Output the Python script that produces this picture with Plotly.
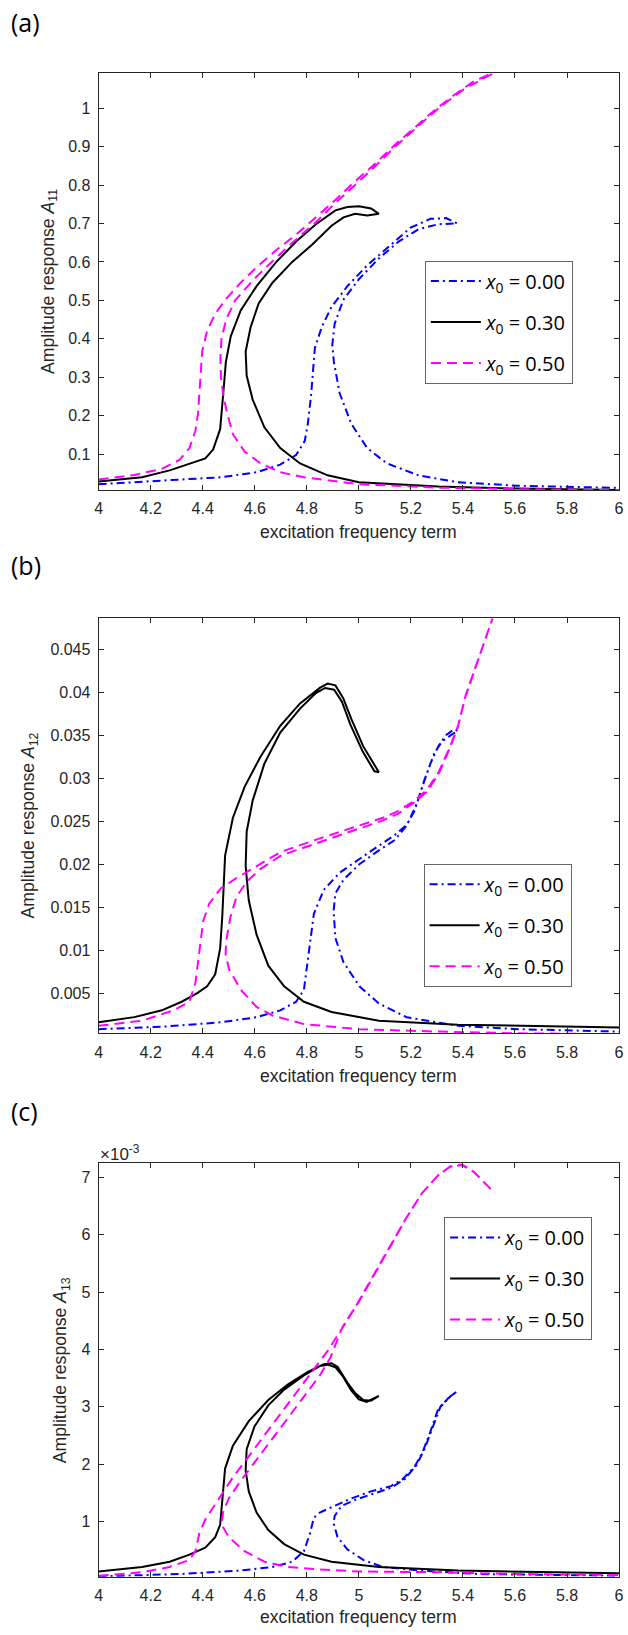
import plotly.graph_objects as go

# ---------------------------------------------------------------
# Frequency-response curves (amplitude vs. excitation frequency)
# for three initial offsets x0; each curve is traced as one path:
# lower-left branch -> upper branch -> turning point -> return branch.
# ---------------------------------------------------------------

legend_text = ["<i>x</i><sub>0</sub> = 0.00",
               "<i>x</i><sub>0</sub> = 0.30",
               "<i>x</i><sub>0</sub> = 0.50"]

# ---- panel (a): A11 ----
a11_w_000 = [4.0, 4.243, 4.47, 4.607, 4.698, 4.759, 4.792, 4.804, 4.816, 4.831, 4.857, 4.895,
             4.956, 5.032, 5.123, 5.199, 5.275, 5.335, 5.378, 5.305, 5.229, 5.153, 5.077, 5.0,
             4.94, 4.907, 4.898, 4.904, 4.926, 4.971, 5.032, 5.108, 5.229, 5.381, 5.608, 6.0]
a11_A_000 = [0.022, 0.031, 0.040, 0.053, 0.073, 0.098, 0.134, 0.179, 0.25, 0.376, 0.43, 0.483,
             0.537, 0.591, 0.645, 0.689, 0.712, 0.714, 0.70, 0.698, 0.685, 0.653, 0.609, 0.555,
             0.501, 0.439, 0.385, 0.34, 0.259, 0.179, 0.116, 0.076, 0.045, 0.027, 0.018, 0.0123]

a11_w_030 = [4.0, 4.167, 4.273, 4.349, 4.41, 4.44, 4.467, 4.478, 4.489, 4.508, 4.546, 4.607,
             4.683, 4.759, 4.835, 4.91, 4.956, 5.0, 5.047, 5.077, 5.032, 4.986, 4.941, 4.895,
             4.819, 4.744, 4.668, 4.615, 4.584, 4.565, 4.569, 4.592, 4.637, 4.698, 4.774, 4.88,
             5.0, 5.305, 5.608, 6.0]
a11_A_030 = [0.029, 0.040, 0.058, 0.076, 0.089, 0.112, 0.165, 0.25, 0.34, 0.407, 0.474, 0.537,
             0.60, 0.653, 0.698, 0.734, 0.743, 0.745, 0.739, 0.725, 0.721, 0.725, 0.716, 0.694,
             0.644, 0.60, 0.546, 0.492, 0.43, 0.367, 0.304, 0.242, 0.17, 0.116, 0.076, 0.045,
             0.027, 0.016, 0.0105, 0.007]

a11_w_050 = [4.0, 4.137, 4.243, 4.311, 4.349, 4.372, 4.382, 4.390, 4.398, 4.417, 4.448, 4.486,
             4.546, 4.607, 4.683, 4.759, 4.835, 4.91, 4.986, 5.062, 5.138, 5.214, 5.29, 5.366,
             5.442, 5.515,
             5.51, 5.405, 5.307, 5.222, 5.14, 5.065, 4.985, 4.905, 4.83, 4.745, 4.665, 4.59,
             4.525, 4.49, 4.472, 4.468, 4.47, 4.48, 4.494, 4.516, 4.561, 4.622, 4.698, 4.789,
             5.0, 5.305, 5.61, 5.91, 6.0]
a11_A_050 = [0.034, 0.046, 0.062, 0.085, 0.116, 0.161, 0.206, 0.295, 0.367, 0.421, 0.465, 0.501,
             0.546, 0.586, 0.631, 0.671, 0.716, 0.761, 0.81, 0.855, 0.904, 0.949, 0.994, 1.034,
             1.07, 1.091,
             1.088, 1.05, 1.0, 0.95, 0.90, 0.85, 0.80, 0.75, 0.70, 0.65, 0.60, 0.55,
             0.50, 0.45, 0.40, 0.35, 0.30, 0.25, 0.206, 0.152, 0.107, 0.076, 0.053, 0.040,
             0.022, 0.013, 0.009, 0.0068, 0.0068]

# ---- panel (b): A12 ----
a12_w_000 = [4.0, 4.243, 4.47, 4.607, 4.698, 4.759, 4.789, 4.807, 4.827, 4.865, 4.926, 5.002,
             5.077, 5.138, 5.184, 5.214, 5.244, 5.275, 5.305, 5.335, 5.366, 5.381, 5.358, 5.32,
             5.29, 5.252, 5.222, 5.184, 5.138, 5.077, 5.002, 4.941, 4.91, 4.903, 4.91, 4.941,
             5.002, 5.077, 5.184, 5.381, 5.608, 6.0]
a12_A_000 = [0.00081, 0.00109, 0.00161, 0.0022, 0.0030, 0.0040, 0.0054, 0.0098, 0.0142, 0.017,
             0.019, 0.0206, 0.0222, 0.0234, 0.0246, 0.0262, 0.029, 0.0317, 0.0337, 0.035, 0.0357,
             0.0355, 0.0351, 0.0343, 0.0329, 0.0298, 0.027, 0.0245, 0.0228, 0.0216, 0.020,
             0.0182, 0.0166, 0.0146, 0.0114, 0.0086, 0.0058, 0.0038, 0.0022, 0.0012, 0.00081,
             0.00053]

a12_w_030 = [4.0, 4.137, 4.243, 4.319, 4.379, 4.417, 4.448, 4.467, 4.475, 4.486, 4.516, 4.561,
             4.622, 4.698, 4.774, 4.85, 4.88, 4.91, 4.94, 4.971, 5.017, 5.062, 5.077, 5.06,
             5.015, 4.968, 4.935, 4.905, 4.87, 4.835, 4.774, 4.698, 4.637, 4.592, 4.569, 4.565,
             4.577, 4.607, 4.652, 4.713, 4.789, 4.895, 5.077, 5.381, 6.0]
a12_A_030 = [0.00161, 0.00221, 0.0030, 0.0040, 0.0050, 0.0058, 0.0072, 0.0102, 0.0138, 0.021,
             0.0254, 0.029, 0.0325, 0.0361, 0.0387, 0.0405, 0.041, 0.0408, 0.0393, 0.0369,
             0.0337, 0.0315, 0.0307, 0.0308, 0.0331, 0.0362, 0.0389, 0.0403, 0.0405, 0.0399,
             0.0381, 0.0353, 0.0317, 0.0274, 0.0238, 0.0198, 0.0158, 0.0118, 0.0082, 0.0058,
             0.0040, 0.0028, 0.0018, 0.00133, 0.0010]

a12_w_050 = [4.0, 4.167, 4.288, 4.349, 4.372, 4.387, 4.402, 4.425, 4.47, 4.531, 4.607, 4.698,
             4.85, 4.971, 5.093, 5.153, 5.214, 5.26, 5.305, 5.351, 5.381, 5.411, 5.457, 5.514,
             5.51, 5.455, 5.41, 5.38, 5.35, 5.305, 5.26, 5.214, 5.153, 5.093, 4.971, 4.85, 4.70,
             4.62, 4.57, 4.53, 4.506, 4.49, 4.488, 4.501, 4.546, 4.607, 4.668, 4.789, 5.0, 5.305,
             5.608, 5.9, 6.0]
a12_A_050 = [0.0012, 0.0018, 0.003, 0.004, 0.0062, 0.0098, 0.0134, 0.0154, 0.0172, 0.0184,
             0.0198, 0.0214, 0.023, 0.0242, 0.0254, 0.0262, 0.0274, 0.0286, 0.0306, 0.0337,
             0.0361, 0.0397, 0.0437, 0.0486,
             0.0484, 0.0435, 0.0395, 0.0359, 0.0335, 0.0304, 0.0284, 0.0272, 0.0259, 0.0251,
             0.0238, 0.0226, 0.021, 0.0194, 0.018, 0.0162, 0.0138, 0.011, 0.0095, 0.0078,
             0.0054, 0.0034, 0.0024, 0.0014, 0.00081, 0.00053, 0.00033, 0.00025, 0.00025]

# ---- panel (c): A13, in units of 1e-3 ----
a13_w_000 = [4.0, 4.319, 4.546, 4.668, 4.744, 4.789, 4.812, 4.827, 4.85, 4.91, 4.971, 5.047,
             5.123, 5.168, 5.214, 5.244, 5.275, 5.305, 5.343, 5.378, 5.351, 5.313, 5.282, 5.252,
             5.222, 5.176, 5.123, 5.062, 4.986, 4.933, 4.907, 4.903, 4.918, 4.956, 5.017, 5.093,
             5.229, 5.457, 6.0]
a13_A_000 = [0.044, 0.086, 0.147, 0.209, 0.30, 0.485, 0.79, 1.066, 1.158, 1.281, 1.403, 1.526,
             1.617, 1.74, 1.954, 2.199, 2.567, 2.965, 3.148, 3.271, 3.179, 2.995, 2.628, 2.26,
             1.985, 1.74, 1.587, 1.50, 1.38, 1.27, 1.097, 0.974, 0.729, 0.515, 0.331, 0.209,
             0.147, 0.086, 0.056]

a13_w_030 = [4.0, 4.167, 4.273, 4.349, 4.41, 4.448, 4.467, 4.475, 4.486, 4.516, 4.577, 4.652,
             4.728, 4.804, 4.865, 4.895, 4.918, 4.956, 4.986, 5.017, 5.047, 5.077, 5.06, 5.03,
             5.0, 4.97, 4.94, 4.91, 4.88, 4.85, 4.789, 4.713, 4.652, 4.599, 4.569, 4.565, 4.577,
             4.607, 4.652, 4.713, 4.789, 4.895, 5.077, 5.381, 6.0]
a13_A_030 = [0.129, 0.209, 0.30, 0.423, 0.546, 0.729, 0.944, 1.403, 1.924, 2.322, 2.75, 3.118,
             3.393, 3.608, 3.742, 3.761, 3.70, 3.424, 3.24, 3.118, 3.105, 3.191, 3.15, 3.085,
             3.13, 3.29, 3.52, 3.69, 3.735, 3.71, 3.546, 3.301, 3.026, 2.658, 2.26, 1.893, 1.526,
             1.158, 0.852, 0.607, 0.423, 0.30, 0.209, 0.147, 0.098]

a13_w_050 = [4.0, 4.167, 4.273, 4.349, 4.372, 4.387, 4.41, 4.455, 4.516, 4.577, 4.637, 4.698,
             4.759, 4.819, 4.88, 4.941, 5.0, 5.062, 5.123, 5.184, 5.244, 5.305, 5.351, 5.396,
             5.442, 5.48, 5.514,
             5.51, 5.478, 5.44, 5.395, 5.35, 5.303, 5.242, 5.182, 5.12, 5.058, 4.997, 4.937,
             4.89, 4.85, 4.789, 4.728, 4.668, 4.607, 4.546, 4.5, 4.478, 4.473, 4.5, 4.561, 4.637,
             4.728, 4.85, 5.0, 5.305, 5.608, 6.0]
a13_A_050 = [0.056, 0.117, 0.209, 0.331, 0.485, 0.79, 1.036, 1.342, 1.77, 2.138, 2.505, 2.873,
             3.24, 3.608, 3.975, 4.404, 4.832, 5.322, 5.812, 6.302, 6.731, 7.037, 7.19, 7.225,
             7.098, 6.914, 6.761,
             6.78, 6.93, 7.10, 7.215, 7.18, 7.03, 6.72, 6.29, 5.80, 5.31, 4.82, 4.39, 3.85,
             3.546, 3.179, 2.81, 2.444, 2.077, 1.709, 1.403, 1.158, 0.944, 0.73, 0.484, 0.30,
             0.209, 0.166, 0.129, 0.117, 0.086, 0.068]

# ---- axes ----
x_ticks = [4.0, 4.2, 4.4, 4.6, 4.8, 5.0, 5.2, 5.4, 5.6, 5.8, 6.0]
x_tick_text = ["4", "4.2", "4.4", "4.6", "4.8", "5", "5.2", "5.4", "5.6", "5.8", "6"]

a11_ticks = [0.1, 0.2, 0.3, 0.4, 0.5, 0.6, 0.7, 0.8, 0.9, 1.0]
a11_tick_text = ["0.1", "0.2", "0.3", "0.4", "0.5", "0.6", "0.7", "0.8", "0.9", "1"]
a12_ticks = [0.005, 0.01, 0.015, 0.02, 0.025, 0.03, 0.035, 0.04, 0.045]
a12_tick_text = ["0.005", "0.01", "0.015", "0.02", "0.025", "0.03", "0.035", "0.04", "0.045"]
a13_ticks = [1, 2, 3, 4, 5, 6, 7]
a13_tick_text = ["1", "2", "3", "4", "5", "6", "7"]

x_range = [4, 6]
a11_range = [0.0069, 1.0905]
a12_range = [0.00033, 0.0486]
a13_range = [0.039, 7.245]

# ---- styling ----
W, H = 628, 1635
colors = ["#0000ff", "#000000", "#ff00ff"]
dashes = ["8px,4px,2px,4px", "solid", "10px,6px"]
AX = "#262626"
TICK_FONT = dict(family="Liberation Sans, Arial, sans-serif", size=16, color=AX)
TITLE_FONT = dict(family="Liberation Sans, Arial, sans-serif", size=17.6, color=AX)
LEG_FONT = dict(family="Open Sans, sans-serif", size=20, color="#000000")

x_dom = [96 / W, 624 / W]
y_doms = [[1 - 490 / H, 1 - 73.3 / H],
          [1 - 1033.3 / H, 1 - 618.3 / H],
          [1 - 1576.7 / H, 1 - 1163.3 / H]]

panels = [
    (a11_range, a11_ticks, a11_tick_text,
     [(a11_w_000, a11_A_000), (a11_w_030, a11_A_030), (a11_w_050, a11_A_050)]),
    (a12_range, a12_ticks, a12_tick_text,
     [(a12_w_000, a12_A_000), (a12_w_030, a12_A_030), (a12_w_050, a12_A_050)]),
    (a13_range, a13_ticks, a13_tick_text,
     [(a13_w_000, a13_A_000), (a13_w_030, a13_A_030), (a13_w_050, a13_A_050)]),
]

legend_pos = [(427 / W, 1 - 260.6 / H), (425.7 / W, 1 - 863.7 / H), (446.5 / W, 1 - 1217 / H)]

fig = go.Figure()
layout = dict(
    width=W, height=H,
    margin=dict(l=0, r=0, t=0, b=0),
    paper_bgcolor="white", plot_bgcolor="white",
    showlegend=True,
)

for p, (yr, yt, ytt, curves) in enumerate(panels):
    sfx = "" if p == 0 else str(p + 1)
    leg = "legend" + sfx
    for s, (w, a) in enumerate(curves):
        fig.add_trace(go.Scatter(
            x=w, y=a, mode="lines",
            line=dict(color=colors[s], width=2, dash=dashes[s]),
            name=legend_text[s], legend=leg, legendgroup=f"p{p}s{s}",
            xaxis="x" + sfx, yaxis="y" + sfx, hoverinfo="skip",
        ))
    common = dict(showline=True, linecolor=AX, linewidth=1, mirror="ticks",
                  ticks="inside", ticklen=5, tickwidth=1, tickcolor=AX,
                  tickfont=TICK_FONT, showgrid=False, zeroline=False,
                  ticklabeloverflow="allow")
    layout["xaxis" + sfx] = dict(domain=x_dom, range=x_range, anchor="y" + sfx,
                                 tickvals=x_ticks, ticktext=x_tick_text,
                                 ticklabelstandoff=4, **common)
    layout["yaxis" + sfx] = dict(domain=y_doms[p], range=yr, anchor="x" + sfx,
                                 tickvals=yt, ticktext=ytt,
                                 ticklabelstandoff=4, **common)
    lx, ly = legend_pos[p]
    layout[leg] = dict(x=lx, y=ly, xanchor="left", yanchor="top",
                       bgcolor="white", bordercolor="#666666", borderwidth=1,
                       font=LEG_FONT, tracegroupgap=12, itemwidth=50,
                       traceorder="grouped")

annotations = []
# panel tags
for txt, yc in [("(a)", 21.5), ("(b)", 565), ("(c)", 1111)]:
    annotations.append(dict(text=txt, x=5 / W, y=1 - yc / H, xref="paper", yref="paper",
                            xanchor="left", yanchor="middle", showarrow=False,
                            font=dict(family="Open Sans, sans-serif", size=25, color="black")))
# x-axis titles
for yc in [532, 1076, 1617]:
    annotations.append(dict(text="excitation frequency term", x=360 / W, y=1 - yc / H,
                            xref="paper", yref="paper", xanchor="center", yanchor="middle",
                            showarrow=False, font=TITLE_FONT))
# y-axis titles
for txt, xc, yc in [("Amplitude response <i>A</i><sub>11</sub>", 46, 281.6),
                    ("Amplitude response <i>A</i><sub>12</sub>", 26, 825.8),
                    ("Amplitude response <i>A</i><sub>13</sub>", 58, 1370)]:
    annotations.append(dict(text=txt, x=xc / W, y=1 - yc / H, xref="paper", yref="paper",
                            xanchor="center", yanchor="middle", textangle=-90,
                            showarrow=False, font=TITLE_FONT))
# exponent label for panel (c)
annotations.append(dict(text="\u00d710<sup>-3</sup>", x=95 / W, y=1 - 1153 / H,
                        xref="paper", yref="paper", xanchor="left", yanchor="middle",
                        showarrow=False,
                        font=dict(family="Liberation Sans, Arial, sans-serif", size=17, color=AX)))
layout["annotations"] = annotations

fig.update_layout(**layout)
fig.write_html("out.html")
